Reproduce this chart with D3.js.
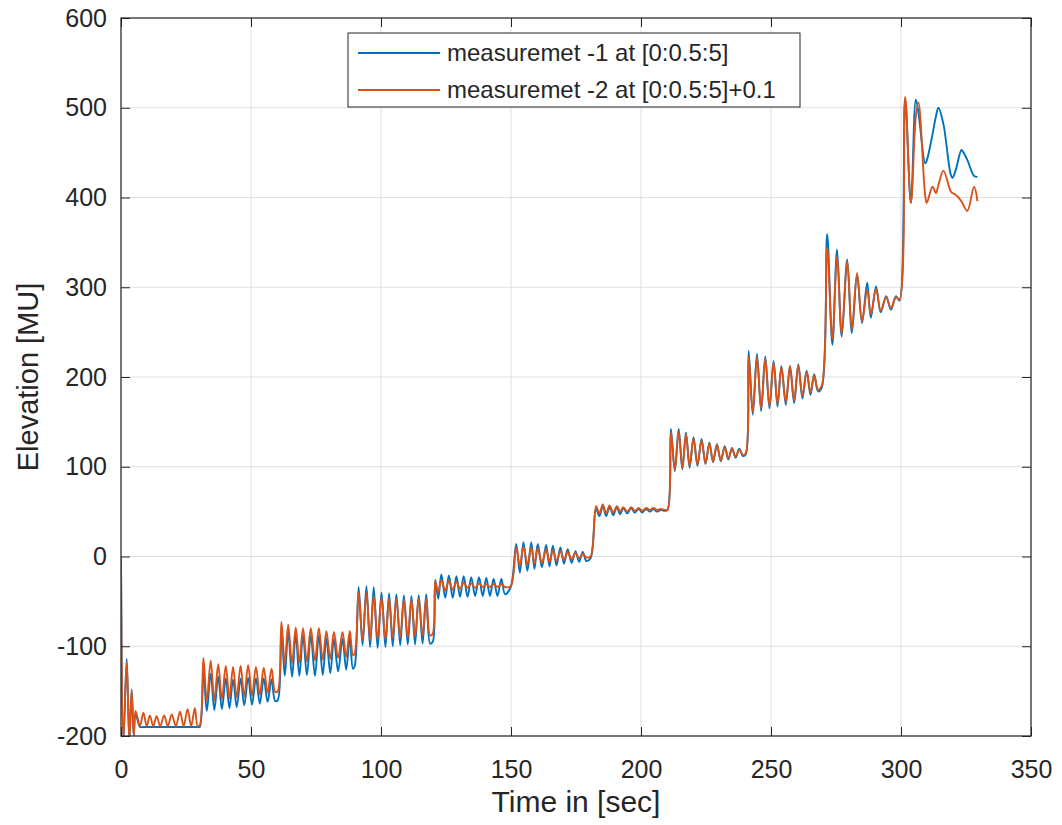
<!DOCTYPE html>
<html>
<head>
<meta charset="utf-8">
<script src="https://cdn.jsdelivr.net/npm/d3@7"></script>
<style>
body{margin:0;background:#fff;}
text{font-family:"Liberation Sans",Arial,sans-serif;fill:#262626;}
</style>
</head>
<body>
<div id="chart"></div>
<script>
// time stamps, one line per 30 sec step
var timeSec = [
 0,0.9,2.2,3.2,4.1,4.9,5.6,7.3,8.6,9.9,11.1,12.4,13.7,15.1,16.6,18.0,19.5,21.1,22.7,24.1,25.6,27.0,28.4,29.5,30.3,
 31.7,33.0,34.5,35.9,37.4,38.8,40.3,41.7,43.1,44.5,46.0,47.4,48.9,50.4,51.9,53.4,54.9,56.4,57.9,59.3,60.3,
 61.7,63.0,64.3,65.8,67.2,68.6,70.0,71.5,73.0,74.6,76.1,77.6,79.0,80.5,81.9,83.5,85.2,86.6,88.0,89.2,89.9,
 91.4,92.9,94.4,95.8,97.2,98.7,100.2,101.7,103.1,104.5,105.9,107.4,108.8,110.3,111.7,113.1,114.5,116.0,117.4,118.9,119.9,
 120.9,122.0,123.2,124.7,126.1,127.6,129.0,130.4,131.8,133.3,134.7,136.2,137.7,139.1,140.5,141.9,143.3,144.8,146.3,147.7,149.9,
 152.0,153.4,154.8,156.3,157.8,159.0,160.3,161.9,163.5,164.8,166.1,167.5,169.0,170.4,171.8,173.3,174.8,176.2,177.6,179.0,180.6,
 182.7,184.0,185.3,186.6,187.9,189.3,190.7,192.0,193.2,194.7,196.2,197.6,199.1,200.5,202.0,203.4,204.8,206.2,207.7,209.0,210.2,
 211.5,213.0,214.5,215.9,217.3,218.7,220.2,221.7,223.3,224.8,226.3,227.7,229.2,230.7,232.2,233.6,235.0,236.4,237.8,239.2,240.3,
 241.4,243.0,244.6,246.2,247.8,249.4,251.0,252.5,254.0,255.7,257.3,258.9,260.5,262.1,263.7,265.2,266.6,268.1,269.5,
 271.6,273.6,275.4,277.2,279.3,281.1,283.1,285.0,287.0,288.4,290.4,292.2,294.3,296.1,298.1,299.4,
 301.6,303.8,305.7,306.7,309.3,309.9,312.1,313.4,314.4,316.3,319.1,319.8,321.0,323.2,323.6,325.5,328.1,329.4
];

// measuremet -1
var meas1 = [
 0,-205,-114,-205,-148,-200,-175,-190,-190,-190,-190,-190,-190,-190,-190,-190,-190,-190,-190,-190,-190,-190,-190,-190,-190,
 -128,-172,-131,-171,-134,-170,-136,-169,-137,-168,-136,-166,-135,-165,-136,-164,-136,-162,-137,-161,-160,
 -81,-133,-84,-134,-87,-133,-88,-132,-88,-133,-88,-132,-91,-130,-92,-128,-92,-126,-91,-125,-122,
 -34,-99,-33,-101,-34,-102,-40,-101,-41,-100,-42,-99,-43,-98,-44,-98,-43,-97,-42,-97,-95,
 -26,-47,-20,-46,-21,-46,-22,-45,-22,-45,-23,-44,-23,-44,-24,-44,-25,-44,-25,-42,-34,
 14,-18,16,-16,16,-14,14,-12,13,-11,12,-10,10,-8,8,-7,6,-6,5,-5,-2,
 53,45,56,45,55,46,55,47,54,48,54,49,53,49,53,50,53,50,52,51,52,
 142,95,142,97,138,99,133,101,131,103,127,105,125,106,123,108,121,110,120,112,114,
 229,158,226,162,223,165,218,167,212,169,212,171,214,176,207,180,203,184,188,
 359,236,342,245,331,249,314,260,305,266,301,272,290,275,290,285,
 510,394,509,495,438,441,470,490,500,482,426,422,430,453,452,442,424,423
];

// measuremet -2
var meas2 = [
 0,-205,-118,-205,-150,-200,-172,-189,-174,-189,-177,-189,-178,-189,-177,-189,-176,-189,-173,-189,-170,-189,-169,-189,-188,
 -113,-161,-116,-160,-120,-159,-122,-158,-123,-157,-122,-156,-121,-155,-123,-154,-124,-152,-125,-151,-150,
 -73,-120,-76,-119,-79,-118,-80,-117,-80,-116,-80,-115,-83,-114,-84,-113,-84,-112,-83,-110,-108,
 -40,-93,-41,-93,-44,-92,-46,-92,-47,-91,-47,-90,-48,-90,-48,-89,-47,-88,-47,-88,-86,
 -28,-40,-26,-38,-27,-37,-28,-36,-29,-35,-30,-35,-30,-34,-31,-34,-31,-34,-31,-34,-33,
 10,-10,11,-9,10,-8,9,-7,8,-6,7,-5,6,-4,5,-3,4,-2,3,-1,0,
 56,48,58,48,57,49,56,50,55,50,55,51,54,51,54,52,54,52,53,52,52,
 138,97,139,99,136,101,131,103,129,104,126,106,124,107,122,109,120,111,119,113,115,
 223,161,222,165,220,168,216,170,211,172,212,174,213,179,206,183,202,186,190,
 344,242,335,248,329,253,316,262,297,270,298,274,289,277,289,286,
 512,394,490,506,402,394,412,405,414,430,407,405,403,396,394,385,412,396
];

var xTicks = [0,50,100,150,200,250,300,350];
var yTicks = [-200,-100,0,100,200,300,400,500,600];
var legendLabels = ["measuremet -1 at [0:0.5:5]","measuremet -2 at [0:0.5:5]+0.1"];
var seriesColors = ["#0072BD","#D95319"];

var w = 1062;
var h = 825;
var plot = {left:121, right:1031, top:18, bottom:736};

var xScale = d3.scaleLinear().domain([0,350]).range([plot.left,plot.right]);
var yScale = d3.scaleLinear().domain([-200,600]).range([plot.bottom,plot.top]);

var svg = d3.select("#chart")
  .append("svg")
  .attr("width",w)
  .attr("height",h);

svg.append("defs").append("clipPath")
  .attr("id","plotclip")
  .append("rect")
  .attr("x",plot.left)
  .attr("y",plot.top)
  .attr("width",plot.right-plot.left)
  .attr("height",plot.bottom-plot.top);

// grid
var grid = svg.append("g").attr("class","grid");
grid.selectAll("line.gx")
  .data(xTicks)
  .enter()
  .append("line")
  .attr("x1",function(d){return xScale(d)})
  .attr("x2",function(d){return xScale(d)})
  .attr("y1",plot.top)
  .attr("y2",plot.bottom)
  .attr("stroke","#dfdfdf")
  .attr("stroke-width",1);
grid.selectAll("line.gy")
  .data(yTicks)
  .enter()
  .append("line")
  .attr("x1",plot.left)
  .attr("x2",plot.right)
  .attr("y1",function(d){return yScale(d)})
  .attr("y2",function(d){return yScale(d)})
  .attr("stroke","#dfdfdf")
  .attr("stroke-width",1);

// data lines
var rows = timeSec.map(function(t,i){return {t:t, a:meas1[i], b:meas2[i]}});
var lineA = d3.line().x(function(d){return xScale(d.t)}).y(function(d){return yScale(d.a)}).curve(d3.curveCatmullRom.alpha(0.5));
var lineB = d3.line().x(function(d){return xScale(d.t)}).y(function(d){return yScale(d.b)}).curve(d3.curveCatmullRom.alpha(0.5));

var lines = svg.append("g").attr("clip-path","url(#plotclip)");
lines.append("path")
  .datum(rows)
  .attr("d",lineA)
  .attr("fill","none")
  .attr("stroke",seriesColors[0])
  .attr("stroke-width",1.9)
  .attr("stroke-linejoin","round");
lines.append("path")
  .datum(rows)
  .attr("d",lineB)
  .attr("fill","none")
  .attr("stroke",seriesColors[1])
  .attr("stroke-width",1.9)
  .attr("stroke-linejoin","round");

// axes, ticks pointing inward like matlab
var plainFmt = function(d){return String(d)};
var xAxis = d3.axisBottom(xScale).tickValues(xTicks).tickSize(-9).tickSizeOuter(0).tickPadding(24).tickFormat(plainFmt);
var yAxis = d3.axisLeft(yScale).tickValues(yTicks).tickSize(-9).tickSizeOuter(0).tickPadding(14).tickFormat(plainFmt);
var xTop = d3.axisTop(xScale).tickValues(xTicks).tickSize(-9).tickSizeOuter(0).tickFormat("");
var yRight = d3.axisRight(yScale).tickValues(yTicks).tickSize(-9).tickSizeOuter(0).tickFormat("");

var gx = svg.append("g").attr("transform","translate(0,"+plot.bottom+")").call(xAxis);
var gy = svg.append("g").attr("transform","translate("+plot.left+",0)").call(yAxis);
var gt = svg.append("g").attr("transform","translate(0,"+plot.top+")").call(xTop);
var gr = svg.append("g").attr("transform","translate("+plot.right+",0)").call(yRight);

[gx,gy,gt,gr].forEach(function(g){
  g.select(".domain").remove();
  g.selectAll(".tick line").attr("stroke","#262626");
  g.selectAll(".tick text").attr("fill","#262626").style("font-size","25px").style("font-family","'Liberation Sans',Arial,sans-serif");
});

svg.append("rect")
  .attr("x",plot.left)
  .attr("y",plot.top)
  .attr("width",plot.right-plot.left)
  .attr("height",plot.bottom-plot.top)
  .attr("fill","none")
  .attr("stroke","#262626")
  .attr("stroke-width",1.2);

// axis labels
svg.append("text")
  .text("Time in [sec]")
  .attr("text-anchor","middle")
  .attr("x",(plot.left+plot.right)/2)
  .attr("y",812)
  .style("font-size","30px");

svg.append("text")
  .text("Elevation [MU]")
  .attr("text-anchor","middle")
  .attr("transform","translate(38,"+((plot.top+plot.bottom)/2)+") rotate(-90)")
  .style("font-size","29px");

// legend
var legend = svg.append("g").attr("class","legend");
legend.append("rect")
  .attr("x",348)
  .attr("y",33)
  .attr("width",452)
  .attr("height",74)
  .attr("fill","#fff")
  .attr("stroke","#262626")
  .attr("stroke-width",1);

var items = legend.selectAll("g.item")
  .data(legendLabels)
  .enter()
  .append("g")
  .attr("transform",function(d,i){return "translate(0,"+(53+i*37)+")"});
items.append("line")
  .attr("x1",358)
  .attr("x2",440)
  .attr("y1",0)
  .attr("y2",0)
  .attr("stroke",function(d,i){return seriesColors[i]})
  .attr("stroke-width",1.8);
items.append("text")
  .text(function(d){return d})
  .attr("x",447)
  .attr("y",0)
  .attr("dy","0.35em")
  .style("font-size","24px");
</script>
</body>
</html>
